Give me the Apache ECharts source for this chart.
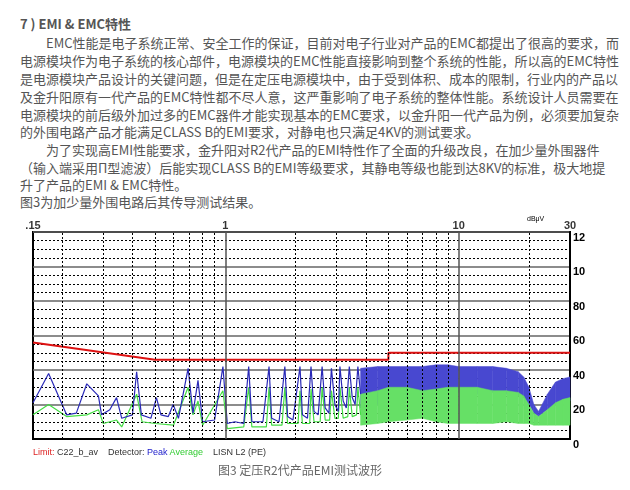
<!DOCTYPE html>
<html>
<head>
<meta charset="utf-8">
<script src="https://cdn.jsdelivr.net/npm/echarts@6/dist/echarts.min.js"></script>
<style>
  body { margin: 0; background: #fff; font-family: "Noto Sans CJK SC", sans-serif; color: #555; }
  #page { position: relative; width: 630px; height: 490px; }
  .ln { position: absolute; left: 20px; font-size: 13px; line-height: 18px; white-space: nowrap; }
  #main { position: absolute; left: 0; top: 0; width: 630px; height: 490px; }
  .legend { position: absolute; left: 33px; top: 447px; font-size: 9px; color: #333; font-family: Arial, sans-serif; }
  .cap { position: absolute; left: 0; width: 600px; text-align: center; top: 461px; font-size: 12px; color: #666; }
</style>
</head>
<body>
<div id="page">
  <div class="ln" style="top:15px;font-weight:bold;">7 ) EMI &amp; EMC特性</div>
  <div class="ln" style="top:34px;">&emsp;&emsp;EMC性能是电子系统正常、安全工作的保证，目前对电子行业对产品的EMC都提出了很高的要求，而</div>
  <div class="ln" style="top:52px;">电源模块作为电子系统的核心部件，电源模块的EMC性能直接影响到整个系统的性能，所以高的EMC特性</div>
  <div class="ln" style="top:70px;">是电源模块产品设计的关键问题，但是在定压电源模块中，由于受到体积、成本的限制，行业内的产品以</div>
  <div class="ln" style="top:88px;">及金升阳原有一代产品的EMC特性都不尽人意，这严重影响了电子系统的整体性能。系统设计人员需要在</div>
  <div class="ln" style="top:106px;">电源模块的前后级外加过多的EMC器件才能实现基本的EMC要求，以金升阳一代产品为例，必须要加复杂</div>
  <div class="ln" style="top:123px;">的外围电路产品才能满足CLASS B的EMI要求，对静电也只满足4KV的测试要求。</div>
  <div class="ln" style="top:141px;">&emsp;&emsp;为了实现高EMI性能要求，金升阳对R2代产品的EMI特性作了全面的升级改良，在加少量外围器件</div>
  <div class="ln" style="top:159px;">（输入端采用Π型滤波）后能实现CLASS B的EMI等级要求，其静电等级也能到达8KV的标准，极大地提</div>
  <div class="ln" style="top:176px;">升了产品的EMI &amp; EMC特性。</div>
  <div class="ln" style="top:193px;">图3为加少量外围电路后其传导测试结果。</div>
  <div id="main"></div>
  <div class="legend"><span style="color:#d22">Limit:</span> C22_b_av &nbsp;&nbsp; Detector: <span style="color:#22c">Peak</span> <span style="color:#3c3">Average</span> &nbsp;&nbsp; LISN L2 (PE)</div>
  <div class="cap">图3 定压R2代产品EMI测试波形</div>
</div>
<script>
// 频率 MHz，电平 dBμV
var limitPts = [[0.15, 56], [0.5, 46], [5, 46], [5, 50], [30, 50]];

var peakPts = [
  [0.15, 21], [0.175, 38], [0.209, 14], [0.23, 15], [0.255, 32], [0.286, 25], [0.295, 14],
  [0.32, 17], [0.342, 24], [0.36, 12], [0.4, 14], [0.417, 39], [0.437, 14], [0.48, 12],
  [0.507, 24], [0.53, 14], [0.57, 13], [0.598, 20], [0.63, 12], [0.693, 41], [0.727, 15],
  [0.764, 34], [0.8, 10], [0.9, 11], [0.977, 42], [1.02, 9], [1.1, 10], [1.2, 9],
  [1.26, 42], [1.3, 10], [1.45, 10], [1.54, 42], [1.58, 12], [1.7, 10], [1.8, 42], [1.85, 13],
  [1.95, 11], [2.09, 42], [2.14, 14], [2.25, 12], [2.33, 42], [2.4, 16], [2.5, 14], [2.6, 42],
  [2.68, 18], [2.78, 15], [2.85, 41], [2.95, 20], [3.05, 16], [3.1, 42], [3.2, 22], [3.3, 18],
  [3.4, 42], [3.5, 24], [3.6, 20], [3.7, 42], [3.8, 26]
];
var avgPts = [
  [0.15, 14], [0.175, 20], [0.209, 13], [0.255, 14], [0.286, 17], [0.3, 9], [0.342, 11],
  [0.36, 7], [0.417, 26], [0.44, 10], [0.5, 9], [0.6, 8], [0.693, 30], [0.727, 14],
  [0.764, 22], [0.8, 8], [0.977, 28], [1.02, 6], [1.2, 7], [1.26, 30], [1.3, 7], [1.5, 7],
  [1.54, 30], [1.58, 8], [1.75, 8], [1.8, 30], [1.85, 9], [2.05, 9], [2.09, 28], [2.14, 9],
  [2.3, 9], [2.33, 29], [2.4, 10], [2.55, 10], [2.6, 30], [2.68, 11], [2.8, 11], [2.85, 28],
  [2.95, 12], [3.05, 12], [3.1, 30], [3.2, 12], [3.35, 13], [3.4, 30], [3.5, 13], [3.65, 14],
  [3.7, 30], [3.8, 14]
];

// 高频段密集波形的包络
var bandFreq = [3.8, 4.5, 5, 6, 7, 8, 9, 10, 12, 14, 16, 18, 19, 20, 21, 22, 24, 26, 28, 30];
var peakHi   = [41, 42, 42, 42, 42, 43, 43, 42, 42, 42, 41, 39, 36, 30, 20, 16, 26, 33, 35, 36];
var peakLo   = [18, 20, 22, 24, 26, 26, 27, 27, 26, 27, 26, 25, 24, 20, 15, 13, 17, 20, 22, 22];
var avgHi    = [26, 28, 30, 30, 28, 29, 30, 30, 30, 28, 28, 27, 25, 20, 15, 13, 17, 21, 23, 24];
var avgLo    = [8, 9, 10, 11, 12, 10, 9, 9, 9, 9, 10, 9, 9, 9, 8, 8, 8, 8, 8, 8];

var tickFreq = [0.15, 1, 10, 30];
var tickText = ['.15', '1', '10', '30'];
var majorV = [1, 10];
var minorV = [0.2, 0.3, 0.4, 0.5, 0.6, 0.7, 0.8, 0.9, 2, 3, 4, 5, 6, 7, 8, 9, 20];

function bandSeries(hi, lo, color) {
  return {
    type: 'custom',
    silent: true,
    data: bandFreq.slice(0, -1).map(function (f, i) { return i; }),
    renderItem: function (params, api) {
      var i = api.value(0);
      var pts = [
        api.coord([bandFreq[i], hi[i]]), api.coord([bandFreq[i + 1], hi[i + 1]]),
        api.coord([bandFreq[i + 1], lo[i + 1]]), api.coord([bandFreq[i], lo[i]])
      ];
      return { type: 'polygon', shape: { points: pts }, style: { fill: color, stroke: color, lineWidth: 0.5 } };
    },
    encode: { x: 0, y: 0 }
  };
}

var myChart = echarts.init(document.getElementById('main'));
var option = {
  animation: false,
  grid: { left: 33, right: 60, top: 232, height: 207, show: true, borderColor: '#000', borderWidth: 2 },
  xAxis: {
    type: 'log', min: 0.15, max: 30, logBase: 10,
    axisLabel: { show: false }, axisTick: { show: false }, splitLine: { show: false },
    axisLine: { lineStyle: { color: '#000', width: 2 } }
  },
  yAxis: {
    type: 'value', position: 'right', min: 0, max: 120, interval: 20,
    axisLine: { show: true, lineStyle: { color: '#000', width: 2 } },
    axisTick: { show: false },
    axisLabel: {
      color: '#000', fontSize: 11, fontWeight: 'bold', fontFamily: 'Arial', margin: 3,
      verticalAlign: 'top',
      formatter: function (v) { return v >= 100 ? String(v).slice(0, 2) : String(v); }
    },
    splitLine: { lineStyle: { color: '#666', width: 1.5 } },
    minorTick: { show: false, splitNumber: 4 },
    minorSplitLine: { show: true, lineStyle: { color: '#000', type: [2, 2], width: 1 } }
  },
  graphic: [{
    type: 'text', left: 527, top: 216,
    style: { text: 'dBμV', fontSize: 7, fill: '#000', fontFamily: 'Arial' }
  }],
  series: [
    {
      type: 'line', symbol: 'none', data: [], silent: true,
      markLine: {
        symbol: 'none', silent: true, animation: false, label: { show: false },
        data: minorV.map(function (f) { return { xAxis: f, lineStyle: { color: '#000', type: [2, 2], width: 1 } }; })
          .concat(majorV.map(function (f) { return { xAxis: f, lineStyle: { color: '#555', type: 'solid', width: 1.5 } }; }))
      }
    },
    {
      type: 'scatter', symbolSize: 0, silent: true, clip: false,
      data: tickFreq.map(function (f, i) { return { value: [f, 120], name: tickText[i] }; }),
      label: { show: true, position: 'top', distance: 1, formatter: '{b}', color: '#000', fontSize: 11, fontWeight: 'bold', fontFamily: 'Arial' }
    },
    bandSeries(peakHi, peakLo, '#4848d0'),
    bandSeries(avgHi, avgLo, '#66e066'),
    { type: 'line', symbol: 'none', data: avgPts, lineStyle: { color: '#44dd44', width: 1.2 } },
    { type: 'line', symbol: 'none', data: peakPts, lineStyle: { color: '#2a2ab8', width: 1.2 } },
    { type: 'line', symbol: 'none', data: limitPts, lineStyle: { color: '#dd1111', width: 2 } }
  ]
};
myChart.setOption(option);
</script>
</body>
</html>
